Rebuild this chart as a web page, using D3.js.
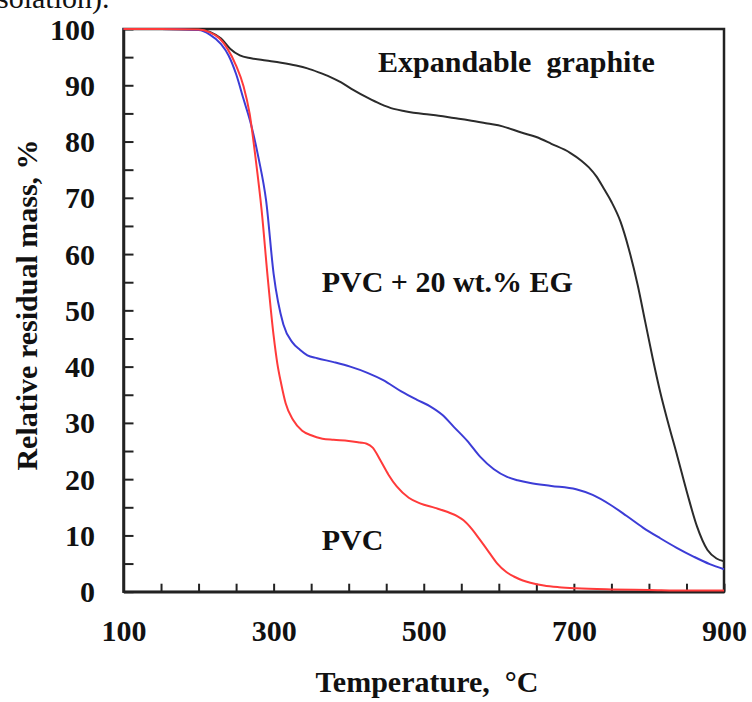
<!DOCTYPE html>
<html>
<head>
<meta charset="utf-8">
<script src="https://cdn.jsdelivr.net/npm/d3@7"></script>
<style>
  html, body { margin: 0; padding: 0; background: #fff; }
  svg { display: block; }
  text { font-family: "Liberation Serif", "Times New Roman", serif; }
</style>
</head>
<body>
<svg id="chart" width="752" height="702"></svg>
<script>
// Thermogravimetric curves: relative residual mass (%) vs temperature (°C)

// Expandable graphite
const egTemp = [100,150,200,215,230,242,255,270,290,310,330,345,360,375,390,406,425,442,460,475,500,520,540,560,585,605,630,650,670,695,710,720,730,740,750,762,773,785,795,805,815,825,838,851,864,878,890,900];
const egMass = [100,100,99.9,99.5,98.3,96.5,95.3,94.8,94.4,94.0,93.5,93.0,92.3,91.5,90.5,89.2,87.8,86.7,85.8,85.4,84.9,84.6,84.2,83.8,83.2,82.7,81.6,80.8,79.6,78.0,76.6,75.4,73.8,71.6,69.3,65.8,61.0,54.5,48.0,41.5,35.5,30.3,24.0,17.5,11.6,7.4,5.9,5.4];

// PVC + 20 wt.% EG
const blendTemp = [100,150,200,215,230,240,250,260,270,280,290,300,313,325,335,345,358,380,402,425,446,470,491,509,525,540,558,575,593,611,625,642,670,703,725,748,770,792,815,837,860,881,900];
const blendMass = [100,100,99.8,99.0,97.3,95.3,92.0,87.5,83.0,77.0,69.5,56.5,47.5,44.3,43.0,42.0,41.5,40.8,40.0,38.9,37.6,35.6,34.1,32.9,31.4,29.3,26.8,24.0,21.8,20.4,19.8,19.3,18.8,18.2,17.2,15.5,13.5,11.4,9.5,7.8,6.2,4.9,4.0];

// PVC
const pvcTemp = [100,150,200,215,228,238,250,260,268,276,284,292,300,305,310,316,326,338,350,365,380,400,415,424,432,442,453,464,480,495,515,531,545,553,565,575,587,598,610,620,632,642,660,680,703,750,800,850,900];
const pvcMass = [100,100,99.9,99.4,98.3,96.6,93.5,89.8,85.0,77.0,67.8,56.0,45.5,40.5,37.0,33.5,30.5,28.6,27.8,27.2,27.0,26.8,26.5,26.3,25.6,23.4,20.8,18.7,16.7,15.7,14.9,14.2,13.4,12.7,11.0,9.2,7.0,5.0,3.5,2.7,2.0,1.6,1.1,0.8,0.6,0.4,0.3,0.2,0.2];

// Axis ticks
const xTicks = d3.range(100, 901, 50);
const xLabels = [100, 300, 500, 700, 900];
const yTicks = d3.range(0, 101, 5);
const yLabels = d3.range(0, 101, 10);

const series = [
  { name: "Expandable  graphite", temp: egTemp, mass: egMass, color: "#2b2b2b" },
  { name: "PVC + 20 wt.% EG", temp: blendTemp, mass: blendMass, color: "#3c3cd6" },
  { name: "PVC", temp: pvcTemp, mass: pvcMass, color: "#ff3a3a" }
];

const svg = d3.select("#chart");
const plotLeft = 123.5, plotRight = 724, plotTop = 29, plotBottom = 591.7;

const x = d3.scaleLinear().domain([100, 900]).range([plotLeft, plotRight]);
const y = d3.scaleLinear().domain([0, 100]).range([plotBottom, plotTop]);

// cut-off caption line above the figure
svg.append("text")
  .attr("x", -3).attr("y", 8)
  .attr("font-size", 30)
  .attr("fill", "#111")
  .text("solation).");

// frame
svg.append("rect")
  .attr("x", plotLeft).attr("y", plotTop)
  .attr("width", plotRight - plotLeft).attr("height", plotBottom - plotTop)
  .attr("fill", "none").attr("stroke", "#222").attr("stroke-width", 2.5);

// x axis
const gx = svg.append("g")
  .attr("transform", `translate(0,${plotBottom})`)
  .call(d3.axisBottom(x).tickValues(xTicks).tickSize(-8).tickSizeOuter(0)
    .tickFormat(d => xLabels.includes(d) ? d : ""));
gx.select(".domain").attr("stroke", "#222").attr("stroke-width", 2.5);
gx.selectAll(".tick line").attr("stroke", "#222").attr("stroke-width", 2);
gx.selectAll(".tick text")
  .attr("y", 49).attr("dy", 0)
  .attr("font-family", "Liberation Serif").attr("font-weight", "bold")
  .attr("font-size", 30).attr("fill", "#111");

// y axis
const gy = svg.append("g")
  .attr("transform", `translate(${plotLeft},0)`)
  .call(d3.axisLeft(y).tickValues(yTicks).tickSize(-10).tickSizeOuter(0)
    .tickFormat(d => yLabels.includes(d) ? d : ""));
gy.select(".domain").attr("stroke", "#222").attr("stroke-width", 2.5);
gy.selectAll(".tick line").attr("stroke", "#222").attr("stroke-width", 2);
gy.selectAll(".tick text")
  .attr("x", -28.5).attr("dy", 10)
  .attr("font-family", "Liberation Serif").attr("font-weight", "bold")
  .attr("font-size", 30).attr("fill", "#111");

// axis titles
svg.append("text")
  .attr("x", 427).attr("y", 691.5)
  .attr("text-anchor", "middle")
  .attr("font-weight", "bold").attr("font-size", 30).attr("fill", "#111")
  .style("white-space", "pre")
  .text("Temperature,  \u00B0C");

svg.append("text")
  .attr("transform", `translate(37,305) rotate(-90)`)
  .attr("text-anchor", "middle")
  .attr("font-weight", "bold").attr("font-size", 30).attr("fill", "#111")
  .text("Relative residual mass, %");

// curves
const line = d3.line()
  .x(d => x(d[0]))
  .y(d => y(d[1]))
  .curve(d3.curveMonotoneX);

series.forEach(s => {
  svg.append("path")
    .datum(d3.zip(s.temp, s.mass))
    .attr("d", line)
    .attr("fill", "none")
    .attr("stroke", s.color)
    .attr("stroke-width", 2)
    .attr("stroke-linejoin", "round");
});

// curve labels
const labelPos = [
  { text: series[0].name, tx: 378, ty: 71.7 },
  { text: series[1].name, tx: 321.7, ty: 291.7 },
  { text: series[2].name, tx: 321.7, ty: 550 }
];
labelPos.forEach(l => {
  svg.append("text")
    .attr("x", l.tx).attr("y", l.ty)
    .attr("font-weight", "bold").attr("font-size", 30).attr("fill", "#111")
    .style("white-space", "pre")
    .text(l.text);
});
</script>
</body>
</html>
